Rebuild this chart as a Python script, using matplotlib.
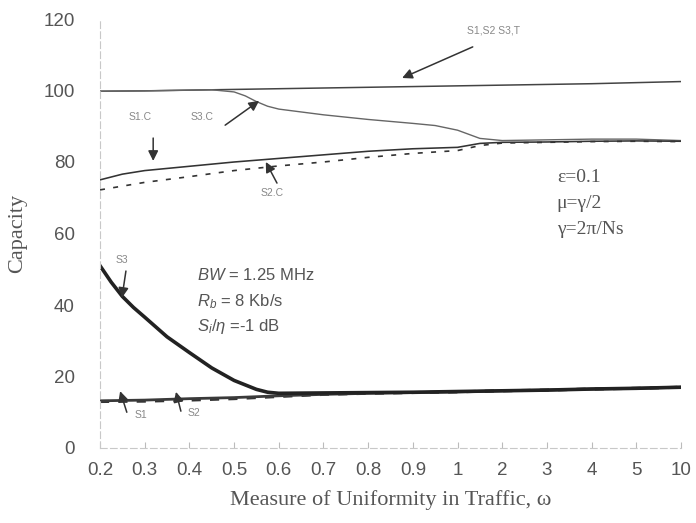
import numpy as np
import matplotlib
matplotlib.use("Agg")
import matplotlib.pyplot as plt

plt.rcParams["font.family"] = ["Liberation Sans", "DejaVu Sans"]
plt.rcParams["mathtext.fontset"] = "custom"
plt.rcParams["mathtext.rm"] = "Liberation Sans"
plt.rcParams["mathtext.it"] = "Liberation Sans:italic"

# eje x: posiciones equiespaciadas para estos valores de omega
omega_ticks = [0.2, 0.3, 0.4, 0.5, 0.6, 0.7, 0.8, 0.9, 1, 2, 3, 4, 5, 10]
tick_labels = ["0.2", "0.3", "0.4", "0.5", "0.6", "0.7", "0.8", "0.9",
               "1", "2", "3", "4", "5", "10"]
y_ticks = [0, 20, 40, 60, 80, 100, 120]

# S1,S2,S3 total
total_x = omega_ticks
total_y = [99.8, 99.9, 100.1, 100.3, 100.5, 100.7, 100.9, 101.1, 101.3,
           101.5, 101.7, 101.9, 102.2, 102.5]

# S3.C
s3c_x = [0.2, 0.3, 0.4, 0.45, 0.5, 0.525, 0.55, 0.575, 0.6, 0.7, 0.8, 0.9,
         0.95, 1, 1.5, 2, 3, 4, 5, 10]
s3c_y = [99.8, 99.9, 100.1, 100.2, 99.6, 98.5, 96.9, 95.6, 94.8, 93.2, 91.9,
         90.8, 90.2, 88.9, 86.6, 86.0, 86.2, 86.4, 86.4, 86.0]

# S1.C
s1c_x = [0.2, 0.25, 0.3, 0.4, 0.5, 0.6, 0.7, 0.8, 0.9, 1, 1.5, 2, 3, 4, 5, 10]
s1c_y = [75.0, 76.6, 77.6, 78.8, 80.0, 81.0, 82.0, 83.0, 83.7, 84.1, 85.2,
         85.5, 85.6, 85.8, 85.9, 85.8]

# S2.C
s2c_x = [0.2, 0.3, 0.4, 0.5, 0.6, 0.7, 0.8, 0.9, 1, 1.5, 2, 3, 4, 5, 10]
s2c_y = [72.2, 74.3, 75.9, 77.6, 78.9, 80.0, 81.3, 82.4, 83.2, 84.6, 85.3,
         85.5, 85.7, 85.8, 85.7]

# S3
s3_x = [0.2, 0.225, 0.25, 0.275, 0.3, 0.35, 0.4, 0.45, 0.5, 0.55, 0.575, 0.6,
        0.7, 0.8, 0.9, 1, 2, 3, 4, 5, 10]
s3_y = [51.0, 46.4, 42.4, 39.3, 36.6, 31.1, 26.7, 22.4, 18.9, 16.4, 15.6,
        15.3, 15.4, 15.5, 15.6, 15.8, 16.0, 16.2, 16.5, 16.7, 17.0]

# S1 y S2
s1_x = omega_ticks
s1_y = [13.2, 13.4, 13.8, 14.1, 14.6, 15.0, 15.3, 15.5, 15.7, 16.0, 16.2,
        16.5, 16.7, 17.0]
s2_x = omega_ticks
s2_y = [13.0, 13.1, 13.4, 13.8, 14.4, 15.0, 15.3, 15.5, 15.7, 16.0, 16.2,
        16.5, 16.7, 17.0]

idx = np.arange(len(omega_ticks))


def adelante(x):
    return np.interp(x, omega_ticks, idx)


def inversa(p):
    return np.interp(p, idx, omega_ticks)


fig = plt.figure(figsize=(6.96, 5.23), dpi=100)
ax = fig.add_axes([100 / 696, 1 - 448 / 523, 581 / 696, 429 / 523])
ax.set_xscale("function", functions=(adelante, inversa))

ax.plot(total_x, total_y, color="#444444", lw=1.1)
ax.plot(s3c_x, s3c_y, color="#666666", lw=1.0)
ax.plot(s1c_x, s1c_y, color="#333333", lw=1.15)
ax.plot(s2c_x, s2c_y, color="#333333", lw=1.2, linestyle=(0, (3, 5)))
ax.plot(s2_x, s2_y, color="#333333", lw=2.2, linestyle=(0, (3, 3)))
ax.plot(s1_x, s1_y, color="#3a3a3a", lw=2.0)
ax.plot(s3_x, s3_y, color="#222222", lw=2.6)

ax.set_xlim(0.2, 10)
ax.set_ylim(0, 120)
ax.set_xticks(omega_ticks)
ax.set_xticklabels(tick_labels)
ax.set_xticks([], minor=True)
ax.set_yticks(y_ticks)
ax.tick_params(axis="x", direction="in", length=4, color="#bbbbbb",
               labelsize=13.5, labelcolor="#555555", pad=10)
ax.tick_params(axis="y", length=0, labelsize=13.5, labelcolor="#555555",
               pad=18)

for lado in ["top", "right"]:
    ax.spines[lado].set_visible(False)
for lado in ["left", "bottom"]:
    ax.spines[lado].set_color("#c8c8c8")
    ax.spines[lado].set_linewidth(0.8)
    ax.spines[lado].set_linestyle((0, (6, 3)))

ax.set_xlabel("Measure of Uniformity in Traffic, ω", family="Liberation Serif",
              fontsize=16, color="#555555", labelpad=8)
ax.set_ylabel("Capacity", family="Liberation Serif", fontsize=16,
              color="#555555", labelpad=12)

# etiquetas con flechas
flecha = dict(arrowstyle="-|>", color="#333333", lw=1.1, mutation_scale=15,
              shrinkA=0, shrinkB=0)
etiquetas = [
    ("S1,S2 S3,T", (1.8, 116.9), (1.34, 112.2), (0.876, 103.5)),
    ("S1.C", (0.29, 92.6), (0.319, 86.7), (0.319, 80.3)),
    ("S3.C", (0.428, 92.6), (0.48, 90.3), (0.556, 97.1)),
    ("S2.C", (0.585, 71.3), (0.596, 74.1), (0.571, 80.0)),
    ("S3", (0.249, 52.6), (0.258, 49.5), (0.249, 42.0)),
    ("S1", (0.292, 9.2), (0.26, 10.0), (0.245, 15.9)),
    ("S2", (0.41, 9.8), (0.381, 10.3), (0.37, 15.7)),
]
for texto, pos_txt, cola, punta in etiquetas:
    ax.text(*pos_txt, texto, fontsize=7.5, color="#888888",
            ha="center", va="center")
    ax.annotate("", xy=punta, xytext=cola, arrowprops=flecha)

ax.text(0.417, 48.4, r"$BW$ = 1.25 MHz", fontsize=12, color="#555555",
        va="center")
ax.text(0.417, 40.8, r"$R_b$ = 8 Kb/s", fontsize=12, color="#555555",
        va="center")
ax.text(0.417, 34.0, r"$S_i/\eta$ =-1 dB", fontsize=12, color="#555555",
        va="center")

for y, texto in [(75.8, "ε=0.1"), (68.5, "μ=γ/2"), (61.0, "γ=2π/Ns")]:
    ax.text(3.22, y, texto, family="Liberation Serif", fontsize=14,
            color="#555555", va="center")

fig.savefig("out.png", dpi=100)
